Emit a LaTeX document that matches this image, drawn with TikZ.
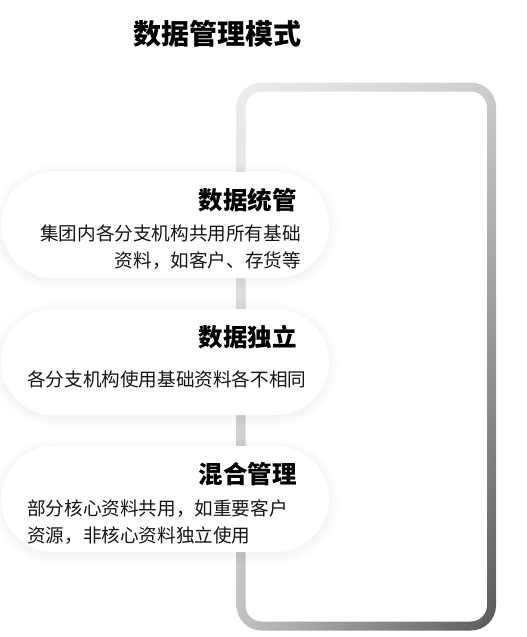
\documentclass[tikz,border=0pt]{standalone}
\usepackage{fontspec}
\usetikzlibrary{shadings}
\newfontfamily\cjk{Noto Sans CJK SC}
\begin{document}
\begin{tikzpicture}[x=1pt,y=-1pt,
  pill/.style={draw=none, fill=white, rectangle, rounded corners=53pt, minimum width=328pt, minimum height=106pt, inner sep=0pt},
  ttl/.style={inner sep=0pt, font=\cjk\bfseries\fontsize{28}{32}\selectfont},
  head/.style={inner sep=0pt, anchor=base east, font=\cjk\bfseries\fontsize{24.5}{28}\selectfont},
  body/.style={inner sep=0pt, font=\cjk\fontsize{18.6}{22}\selectfont, text=black!92}]
\useasboundingbox (0,0) rectangle (527,637);
\fill[white] (0,0) rectangle (527,637);
% gradient frame
\shade[upper left=black!7, upper right=black!20, lower left=black!24, lower right=black!65, even odd rule]
  [rounded corners=25pt] (236.5,82.5) rectangle (496,630.5)
  [rounded corners=16pt] (245.5,91.5) rectangle (487,621.5);
% pill shadows
\foreach \c in {225,362,499}{
  \foreach \s in {1,...,10}{
    \pgfmathsetmacro{\rr}{53+\s}
    \fill[black, opacity=0.0035, rounded corners=\rr pt] (1-\s,\c-53-\s+2) rectangle (329+\s,\c+53+\s+2);
  }
}
% pills
\node[pill] (p1) at (165,225) {};
\node[pill] (p2) at (165,362) {};
\node[pill] (p3) at (165,499) {};
% title
\node[ttl, anchor=base] (title) at (217.5,44) {数据管理模式};
% pill 1
\node[head] (h1) at (297,209) {数据统管};
\node[body, anchor=base east] (b1a) at (301,240) {集团内各分支机构共用所有基础};
\node[body, anchor=base east] (b1b) at (301,267) {资料，如客户、存货等};
% pill 2
\node[head] (h2) at (297,346.5) {数据独立};
\node[body, anchor=base west] (b2) at (27,386) {各分支机构使用基础资料各不相同};
% pill 3
\node[head] (h3) at (297,483) {混合管理};
\node[body, anchor=base west] (b3a) at (27,515.5) {部分核心资料共用，如重要客户};
\node[body, anchor=base west] (b3b) at (27,542.5) {资源，非核心资料独立使用};
\end{tikzpicture}
\end{document}
